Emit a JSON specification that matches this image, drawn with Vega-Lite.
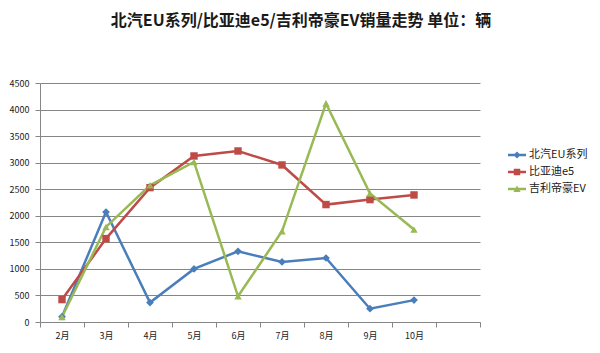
{
  "$schema": "https://vega.github.io/schema/vega-lite/v6.json",
  "autosize": {"type": "none"},
  "width": 440,
  "height": 239,
  "padding": {"left": 40, "top": 83, "right": 120, "bottom": 31},
  "background": "white",
  "title": {
    "text": "北汽EU系列/比亚迪e5/吉利帝豪EV销量走势 单位：辆",
    "font": "Noto Sans CJK SC",
    "fontSize": 16,
    "fontWeight": "bold",
    "color": "#1a1a1a",
    "anchor": "middle",
    "frame": "group",
    "dx": 41,
    "offset": 50
  },
  "config": {
    "view": {"stroke": null},
    "font": "Noto Sans CJK SC"
  },
  "data": {
    "values": [
      {"month": "2月", "series": "北汽EU系列", "sales": 100},
      {"month": "3月", "series": "北汽EU系列", "sales": 2070},
      {"month": "4月", "series": "北汽EU系列", "sales": 365},
      {"month": "5月", "series": "北汽EU系列", "sales": 1000},
      {"month": "6月", "series": "北汽EU系列", "sales": 1330},
      {"month": "7月", "series": "北汽EU系列", "sales": 1130},
      {"month": "8月", "series": "北汽EU系列", "sales": 1205},
      {"month": "9月", "series": "北汽EU系列", "sales": 250},
      {"month": "10月", "series": "北汽EU系列", "sales": 412},
      {"month": "2月", "series": "比亚迪e5", "sales": 422},
      {"month": "3月", "series": "比亚迪e5", "sales": 1570},
      {"month": "4月", "series": "比亚迪e5", "sales": 2530},
      {"month": "5月", "series": "比亚迪e5", "sales": 3126},
      {"month": "6月", "series": "比亚迪e5", "sales": 3220},
      {"month": "7月", "series": "比亚迪e5", "sales": 2957},
      {"month": "8月", "series": "比亚迪e5", "sales": 2211},
      {"month": "9月", "series": "比亚迪e5", "sales": 2305},
      {"month": "10月", "series": "比亚迪e5", "sales": 2392},
      {"month": "2月", "series": "吉利帝豪EV", "sales": 94},
      {"month": "3月", "series": "吉利帝豪EV", "sales": 1790},
      {"month": "4月", "series": "吉利帝豪EV", "sales": 2574},
      {"month": "5月", "series": "吉利帝豪EV", "sales": 3013},
      {"month": "6月", "series": "吉利帝豪EV", "sales": 484},
      {"month": "7月", "series": "吉利帝豪EV", "sales": 1708},
      {"month": "8月", "series": "吉利帝豪EV", "sales": 4113},
      {"month": "9月", "series": "吉利帝豪EV", "sales": 2418},
      {"month": "10月", "series": "吉利帝豪EV", "sales": 1740}
    ]
  },
  "encoding": {
    "x": {
      "field": "month",
      "type": "ordinal",
      "bandPosition": 0.5,
      "scale": {
        "type": "band",
        "domain": ["2月", "3月", "4月", "5月", "6月", "7月", "8月", "9月", "10月", "_"],
        "paddingInner": 0,
        "paddingOuter": 0
      },
      "axis": {
        "title": null,
        "labelAngle": 0,
        "labelExpr": "datum.label == '_' ? '' : datum.label",
        "tickBand": "extent",
        "tickSize": 5,
        "tickColor": "#868686",
        "domainColor": "#868686",
        "labelPadding": 4,
        "labelFontSize": 9,
        "labelColor": "#1a1a1a",
        "grid": false
      }
    },
    "y": {
      "field": "sales",
      "type": "quantitative",
      "scale": {"domain": [0, 4500], "nice": false},
      "axis": {
        "title": null,
        "format": "d",
        "values": [0, 500, 1000, 1500, 2000, 2500, 3000, 3500, 4000, 4500],
        "grid": true,
        "gridColor": "#868686",
        "gridWidth": 1,
        "tickSize": 5,
        "tickColor": "#868686",
        "domainColor": "#868686",
        "labelPadding": 6,
        "labelFontSize": 9,
        "labelColor": "#1a1a1a"
      }
    },
    "color": {
      "field": "series",
      "type": "nominal",
      "scale": {
        "domain": ["北汽EU系列", "比亚迪e5", "吉利帝豪EV"],
        "range": ["#4A7EBB", "#BE4B48", "#98B954"]
      },
      "legend": {
        "title": null,
        "orient": "none",
        "legendX": 468,
        "legendY": 63,
        "labelFontSize": 11,
        "labelColor": "#1a1a1a",
        "labelOffset": 3,
        "rowPadding": 3,
        "symbolSize": 324,
        "encode": {
          "symbols": {
            "update": {
              "shape": {"signal": "datum.value == '北汽EU系列' ? 'M-1,-0.14H1V0.14H-1Z M-0.4,0L0,-0.4L0.4,0L0,0.4Z' : datum.value == '比亚迪e5' ? 'M-1,-0.14H1V0.14H-1Z M-0.36,-0.36H0.36V0.36H-0.36Z' : 'M-1,-0.14H1V0.14H-1Z M-0.4,0.32L0,-0.38L0.4,0.32Z'"},
              "fill": {"scale": "color", "field": "value"},
              "strokeWidth": {"value": 0},
              "opacity": {"value": 1},
              "fillOpacity": {"value": 1}
            }
          }
        }
      }
    }
  },
  "layer": [
    {
      "mark": {"type": "line", "strokeWidth": 2.5}
    },
    {
      "transform": [{"filter": "datum.series == '北汽EU系列'"}],
      "mark": {"type": "point", "shape": "diamond", "filled": true, "opacity": 1, "size": 60}
    },
    {
      "transform": [{"filter": "datum.series == '比亚迪e5'"}],
      "mark": {"type": "point", "shape": "square", "filled": true, "opacity": 1, "size": 55}
    },
    {
      "transform": [{"filter": "datum.series == '吉利帝豪EV'"}],
      "mark": {"type": "point", "shape": "triangle-up", "filled": true, "opacity": 1, "size": 55}
    }
  ]
}
